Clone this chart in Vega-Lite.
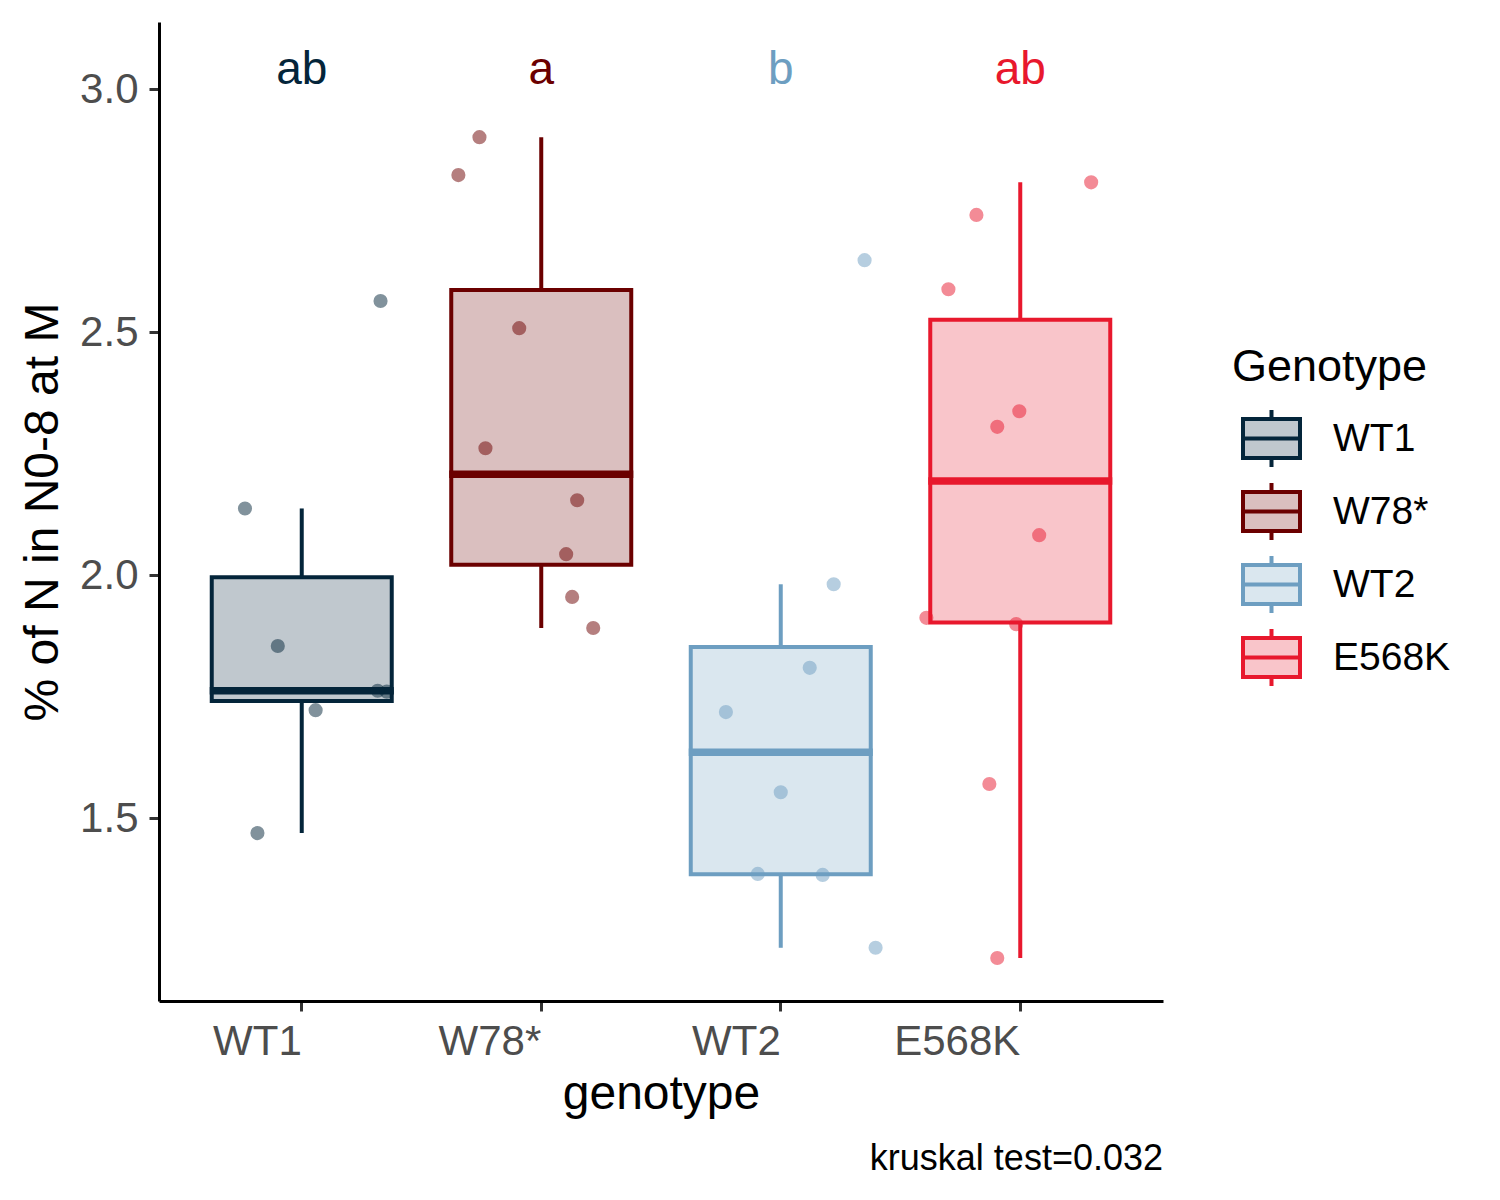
{
  "$schema": "https://vega.github.io/schema/vega-lite/v6.json",
  "width": 1004,
  "height": 979,
  "autosize": {"type": "none"},
  "padding": {"left": 159, "top": 22, "right": 337, "bottom": 199},
  "background": "white",
  "title": {"text": "kruskal test=0.032", "orient": "bottom", "anchor": "end", "frame": "group", "fontSize": 36, "fontWeight": "normal", "color": "black", "font": "Liberation Sans", "offset": 24},
  "datasets": {
    "pts": [
      {"genotype": "WT1", "value": 2.137, "jitter": -0.237},
      {"genotype": "WT1", "value": 1.854, "jitter": -0.1},
      {"genotype": "WT1", "value": 1.722, "jitter": 0.058},
      {"genotype": "WT1", "value": 2.564, "jitter": 0.329},
      {"genotype": "WT1", "value": 1.762, "jitter": 0.317},
      {"genotype": "WT1", "value": 1.760, "jitter": 0.355},
      {"genotype": "WT1", "value": 1.469, "jitter": -0.185},
      {"genotype": "W78*", "value": 2.901, "jitter": -0.258},
      {"genotype": "W78*", "value": 2.823, "jitter": -0.346},
      {"genotype": "W78*", "value": 2.508, "jitter": -0.092},
      {"genotype": "W78*", "value": 2.261, "jitter": -0.233},
      {"genotype": "W78*", "value": 2.154, "jitter": 0.15},
      {"genotype": "W78*", "value": 2.043, "jitter": 0.104},
      {"genotype": "W78*", "value": 1.955, "jitter": 0.129},
      {"genotype": "W78*", "value": 1.891, "jitter": 0.217},
      {"genotype": "WT2", "value": 2.648, "jitter": 0.35},
      {"genotype": "WT2", "value": 1.981, "jitter": 0.221},
      {"genotype": "WT2", "value": 1.809, "jitter": 0.121},
      {"genotype": "WT2", "value": 1.718, "jitter": -0.229},
      {"genotype": "WT2", "value": 1.553, "jitter": 0.0},
      {"genotype": "WT2", "value": 1.385, "jitter": -0.096},
      {"genotype": "WT2", "value": 1.383, "jitter": 0.175},
      {"genotype": "WT2", "value": 1.233, "jitter": 0.396},
      {"genotype": "E568K", "value": 2.808, "jitter": 0.296},
      {"genotype": "E568K", "value": 2.741, "jitter": -0.183},
      {"genotype": "E568K", "value": 2.588, "jitter": -0.3},
      {"genotype": "E568K", "value": 2.337, "jitter": -0.004},
      {"genotype": "E568K", "value": 2.305, "jitter": -0.096},
      {"genotype": "E568K", "value": 2.082, "jitter": 0.079},
      {"genotype": "E568K", "value": 1.912, "jitter": -0.392},
      {"genotype": "E568K", "value": 1.899, "jitter": -0.017},
      {"genotype": "E568K", "value": 1.570, "jitter": -0.129},
      {"genotype": "E568K", "value": 1.212, "jitter": -0.096}
    ],
    "letters": [
      {"genotype": "WT1", "letter": "ab"},
      {"genotype": "W78*", "letter": "a"},
      {"genotype": "WT2", "letter": "b"},
      {"genotype": "E568K", "letter": "ab"}
    ]
  },
  "config": {
    "font": "Liberation Sans",
    "view": {"stroke": null},
    "axis": {
      "grid": false,
      "domainColor": "black",
      "domainWidth": 3,
      "tickColor": "#333333",
      "tickWidth": 3,
      "tickSize": 10,
      "labelColor": "#4D4D4D",
      "labelFontSize": 42,
      "labelFont": "Liberation Sans",
      "titleFont": "Liberation Sans",
      "titleFontSize": 48,
      "titleFontWeight": "normal",
      "titleColor": "black"
    }
  },
  "layer": [
    {
      "data": {"name": "pts"},
      "mark": {
        "type": "boxplot",
        "extent": 1.5,
        "outliers": false,
        "ticks": false,
        "size": 180,
        "box": {"fillOpacity": 0.25, "strokeWidth": 4},
        "median": {"thickness": 0.5, "strokeWidth": 7, "size": 177, "opacity": 1},
        "rule": {"strokeWidth": 4}
      },
      "encoding": {
        "x": {
          "field": "genotype", "type": "nominal",
          "scale": {"domain": ["WT1", "W78*", "WT2", "E568K"], "paddingInner": 0, "paddingOuter": 0.096},
          "axis": {"title": "genotype", "labelAngle": 0, "labelAlign": "right", "labelBaseline": "top", "labelPadding": 10, "titlePadding": 8}
        },
        "y": {
          "field": "value", "type": "quantitative",
          "scale": {"domain": [1.1235, 3.138], "nice": false, "zero": false},
          "axis": {"title": "% of N in N0-8 at M", "values": [1.5, 2.0, 2.5, 3.0], "format": ".1f", "labelPadding": 11, "titlePadding": 12}
        },
        "color": {
          "field": "genotype", "type": "nominal",
          "scale": {"domain": ["WT1", "W78*", "WT2", "E568K"], "range": ["#04253A", "#6B0000", "#6D9EC1", "#E8182D"]},
          "legend": {
            "title": "Genotype",
            "orient": "none",
            "legendX": 1073,
            "legendY": 323,
            "padding": 0,
            "titleFontSize": 45,
            "titleFontWeight": "normal",
            "titleColor": "black",
            "titleLimit": 500,
            "titlePadding": 18,
            "labelFontSize": 39,
            "labelColor": "black",
            "labelLimit": 400,
            "labelOffset": 31,
            "symbolSize": 3249,
            "symbolOffset": 9,
            "symbolType": "M-1,-0.68H1V0.68H-1Z M-1,0H1 M0,-0.68V-1 M0,0.68V1",
            "symbolStrokeWidth": 4,
            "rowPadding": 0,
            "encode": {
              "symbols": {
                "update": {
                  "fill": {"scale": "color", "field": "value"},
                  "stroke": {"scale": "color", "field": "value"},
                  "fillOpacity": {"value": 0.25},
                  "strokeOpacity": {"value": 1},
                  "opacity": {"value": 1},
                  "strokeWidth": {"value": 4}
                }
              }
            }
          }
        },
        "stroke": {
          "field": "genotype", "type": "nominal",
          "scale": {"domain": ["WT1", "W78*", "WT2", "E568K"], "range": ["#04253A", "#6B0000", "#6D9EC1", "#E8182D"]}
        }
      }
    },
    {
      "data": {"name": "pts"},
      "mark": {"type": "point", "filled": true, "opacity": 0.5, "size": 200},
      "encoding": {
        "x": {"field": "genotype", "type": "nominal"},
        "xOffset": {"field": "jitter", "type": "quantitative", "scale": {"domain": [-0.5, 0.5], "nice": false, "zero": false}},
        "y": {"field": "value", "type": "quantitative"},
        "color": {"field": "genotype", "type": "nominal"}
      }
    },
    {
      "data": {"name": "letters"},
      "mark": {"type": "text", "fontSize": 46, "baseline": "middle", "font": "Liberation Sans"},
      "encoding": {
        "x": {"field": "genotype", "type": "nominal"},
        "y": {"datum": 3.04},
        "text": {"field": "letter"},
        "color": {"field": "genotype", "type": "nominal"}
      }
    }
  ]
}
